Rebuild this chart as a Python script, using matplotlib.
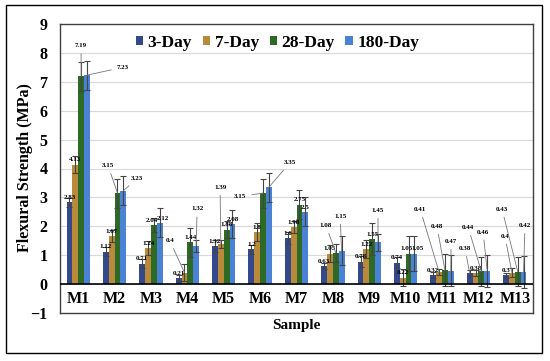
import matplotlib.pyplot as plt
import numpy as np

# data
samples = ["M1", "M2", "M3", "M4", "M5", "M6", "M7", "M8", "M9", "M10", "M11", "M12", "M13"]
series = ["3-Day", "7-Day", "28-Day", "180-Day"]
day3 = [2.83, 1.12, 0.71, 0.21, 1.32, 1.2, 1.6, 0.63, 0.78, 0.74, 0.32, 0.38, 0.3]
day7 = [4.13, 1.67, 1.24, 0.4, 1.39, 1.8, 1.98, 1.05, 1.22, 0.22, 0.41, 0.38, 0.4]
day28 = [7.19, 3.15, 2.04, 1.44, 1.88, 3.15, 2.75, 1.08, 1.55, 1.05, 0.48, 0.44, 0.43]
day180 = [7.23, 3.23, 2.12, 1.32, 2.08, 3.35, 2.5, 1.15, 1.45, 1.05, 0.47, 0.46, 0.42]
err3 = [0.15, 0.15, 0.15, 0.1, 0.2, 0.15, 0.2, 0.1, 0.2, 0.2, 0.1, 0.1, 0.1]
err7 = [0.3, 0.2, 0.25, 0.3, 0.15, 0.3, 0.2, 0.3, 0.3, 0.3, 0.1, 0.1, 0.15]
err28 = [0.5, 0.5, 0.25, 0.5, 0.3, 0.5, 0.5, 0.3, 0.55, 0.6, 0.55, 0.5, 0.5]
err180 = [0.5, 0.5, 0.5, 0.2, 0.5, 0.5, 0.5, 0.5, 0.3, 0.6, 0.55, 0.55, 0.55]

values = [day3, day7, day28, day180]
errors = [err3, err7, err28, err180]
colors = ["#34488c", "#b98a3a", "#2c6a25", "#4a82d6"]

# labels moved off the bar with a leader line: (sample, series) -> (x, y)
leaders = {
    (0, 2): (0.08, 8.25), (0, 3): (1.23, 7.5),
    (1, 2): (0.82, 4.1), (1, 3): (1.62, 3.65),
    (3, 1): (2.52, 1.5), (3, 3): (3.27, 2.6),
    (4, 1): (3.9, 3.35),
    (5, 2): (4.45, 3.03), (5, 3): (5.82, 4.2),
    (7, 2): (6.81, 2.03), (7, 3): (7.2, 2.35),
    (8, 3): (8.24, 2.55),
    (10, 1): (9.4, 2.59), (10, 2): (9.86, 2.0), (10, 3): (10.25, 1.48),
    (11, 0): (10.63, 1.24), (11, 2): (10.72, 1.96), (11, 3): (11.13, 1.8),
    (12, 1): (11.73, 1.66), (12, 2): (11.65, 2.59), (12, 3): (12.28, 2.03),
}
# small sideways nudges for labels that would sit on top of each other
nudges = {(2, 2): -0.06, (2, 3): 0.08, (9, 2): -0.06, (9, 3): 0.08}

plt.rcParams['font.family'] = ['Liberation Serif', 'DejaVu Serif']
plt.rcParams['font.weight'] = 'bold'

fig = plt.figure(figsize=(5.5, 3.61), dpi=100)
ax = fig.add_axes([60/550, 1 - 313/361, 473/550, 289/361])

x = np.arange(len(samples))
width = 0.16
for i, (vals, errs) in enumerate(zip(values, errors)):
    pos = x + (i - 1.5) * width
    ax.bar(pos, vals, width, color=colors[i], label=series[i], zorder=3,
           yerr=errs, error_kw=dict(ecolor="#444444", elinewidth=0.8, capsize=2.5, capthick=0.8))
    for j, v in enumerate(vals):
        lbl = f"{v:g}"
        if (j, i) in leaders:
            tx, ty = leaders[(j, i)]
            ax.annotate(lbl, xy=(pos[j], v), xytext=(tx, ty), fontsize=5, ha="center", va="center",
                        fontweight="bold", zorder=5,
                        arrowprops=dict(arrowstyle="-", color="#777777", lw=0.6, shrinkA=2, shrinkB=0))
        else:
            ax.text(pos[j] + nudges.get((j, i), 0), v + 0.08, lbl, fontsize=5, ha="center",
                    va="bottom", fontweight="bold", zorder=5)

ax.set_xlim(-0.5, len(samples) - 0.5)
ax.set_ylim(-1, 9)
ax.set_yticks(range(-1, 10))
ax.tick_params(axis="y", length=0, labelsize=11.5, pad=9)
ax.set_xticks([])
for xi, s in zip(x, samples):
    ax.text(xi, -0.5, s, ha="center", va="center", fontsize=11.5, fontweight="bold")
ax.grid(axis="y", color="#d9d9d9", lw=0.8, zorder=0)
ax.axhline(0, color="black", lw=1.2, zorder=4)
for sp in ax.spines.values():
    sp.set_color("#404040")
    sp.set_linewidth(1.0)

fig.text(25/550, 1 - 168/361, "Flexural Strength (MPa)", rotation=90, ha="center", va="center",
         fontsize=11.5, fontweight="bold")
fig.text(296/550, 1 - 325/361, "Sample", ha="center", va="center", fontsize=11, fontweight="bold")

ax.legend(loc="center", bbox_to_anchor=(0.46, 1 - 19/289), ncol=4, frameon=False,
          fontsize=12.5, handlelength=0.45, handleheight=0.45, handletextpad=0.25, columnspacing=0.6)

fig.patches.append(plt.Rectangle((6/550, 1 - 353/361), 536/550, 348/361, transform=fig.transFigure,
                                 fill=False, edgecolor="black", lw=1.0))

fig.savefig("out.png", dpi=100)
